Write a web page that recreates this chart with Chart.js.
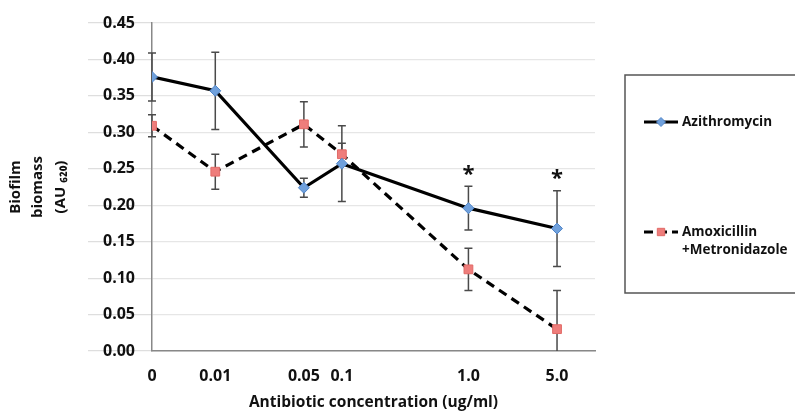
<!DOCTYPE html>
<html>
<head>
<meta charset="utf-8">
<style>
  html, body { margin: 0; padding: 0; background: #fff; }
  #wrap { width: 795px; height: 413px; }
</style>
<script src="https://cdn.jsdelivr.net/npm/chart.js@4.4.0/dist/chart.umd.min.js"></script>
</head>
<body>
<div id="wrap"><canvas id="chart" width="795" height="413"></canvas></div>
<script>
  // concentrations (ug/ml) and where Excel placed them along the axis
  const concLabels = ["0", "0.01", "0.05", "0.1", "1.0", "5.0"];
  const xPos = [0, 5, 12, 15, 25, 32];

  const azithro = [0.376, 0.357, 0.224, 0.257, 0.196, 0.168];
  const azithroErr = [0.033, 0.053, 0.013, 0.052, 0.030, 0.052];
  const amoxMetro = [0.309, 0.246, 0.311, 0.270, 0.112, 0.030];
  const amoxMetroErr = [0.015, 0.024, 0.031, 0.015, 0.029, 0.053];
  const significant = [false, false, false, false, true, true];

  const yTicks = [0, 0.05, 0.10, 0.15, 0.20, 0.25, 0.30, 0.35, 0.40, 0.45];

  const FONT = "'Open Sans', sans-serif";

  const errorBars = {
    id: "errorBars",
    beforeDatasetsDraw(chart) {
      const ctx = chart.ctx, area = chart.chartArea;
      const xs = chart.scales.x, ys = chart.scales.y;
      ctx.save();
      ctx.beginPath();
      ctx.rect(area.left - 10, area.top - 30, area.right - area.left + 20, area.bottom - area.top + 30);
      ctx.clip();
      ctx.strokeStyle = "#4a4a4a";
      ctx.lineWidth = 1.5;
      [[azithro, azithroErr], [amoxMetro, amoxMetroErr]].forEach(([vals, errs]) => {
        vals.forEach((v, i) => {
          const x = xs.getPixelForValue(xPos[i]);
          const y1 = ys.getPixelForValue(v + errs[i]);
          const y2 = ys.getPixelForValue(v - errs[i]);
          ctx.beginPath();
          ctx.moveTo(x, y1); ctx.lineTo(x, y2);
          ctx.moveTo(x - 4, y1); ctx.lineTo(x + 4, y1);
          ctx.moveTo(x - 4, y2); ctx.lineTo(x + 4, y2);
          ctx.stroke();
        });
      });
      ctx.restore();
    },
    afterDatasetsDraw(chart) {
      const ctx = chart.ctx;
      const xs = chart.scales.x, ys = chart.scales.y;
      // significance stars
      ctx.save();
      ctx.fillStyle = "#111";
      ctx.font = "bold 22px " + FONT;
      ctx.textAlign = "center";
      ctx.textBaseline = "middle";
      significant.forEach((s, i) => {
        if (!s) return;
        const top = Math.max(azithro[i] + azithroErr[i], amoxMetro[i] + amoxMetroErr[i]);
        ctx.fillText("*", xs.getPixelForValue(xPos[i]), ys.getPixelForValue(top) - 12);
      });
      ctx.restore();
    }
  };

  const boxLegend = {
    id: "boxLegend",
    afterDraw(chart) {
      const ctx = chart.ctx;
      ctx.save();
      ctx.strokeStyle = "#555";
      ctx.lineWidth = 1.5;
      ctx.strokeRect(625, 75, 200, 218);
      const items = [
        { ds: chart.data.datasets[0], y: 122, lines: ["Azithromycin"] },
        { ds: chart.data.datasets[1], y: 232, lines: ["Amoxicillin", "+Metronidazole"] }
      ];
      items.forEach(it => {
        ctx.strokeStyle = "#000";
        ctx.lineWidth = 3;
        ctx.setLineDash(it.ds.borderDash ? [9, 5] : []);
        ctx.beginPath();
        ctx.moveTo(644, it.y); ctx.lineTo(678, it.y);
        ctx.stroke();
        ctx.setLineDash([]);
        ctx.fillStyle = it.ds.pointBackgroundColor;
        ctx.strokeStyle = it.ds.pointBorderColor;
        ctx.lineWidth = 1;
        Chart.helpers.drawPoint(ctx, {
          pointStyle: it.ds.pointStyle, radius: it.ds.pointRadius - 1, rotation: 0, borderWidth: 1
        }, 661, it.y);
        ctx.fillStyle = "#111";
        ctx.font = "bold 13.5px " + FONT;
        ctx.textAlign = "left";
        ctx.textBaseline = "middle";
        it.lines.forEach((t, k) => ctx.fillText(t, 682, it.y + k * 18));
      });
      ctx.restore();
    }
  };

  new Chart(document.getElementById("chart"), {
    type: "line",
    data: {
      datasets: [
        {
          label: "Azithromycin",
          data: xPos.map((x, i) => ({ x: x, y: azithro[i] })),
          borderColor: "#000",
          borderWidth: 3.2,
          pointStyle: "rectRot",
          pointRadius: 5.5,
          pointBackgroundColor: "#6fa0dc",
          pointBorderColor: "#5286c8",
          pointBorderWidth: 1
        },
        {
          label: "Amoxicillin +Metronidazole",
          data: xPos.map((x, i) => ({ x: x, y: amoxMetro[i] })),
          borderColor: "#000",
          borderWidth: 3.2,
          borderDash: [9, 6],
          pointStyle: "rect",
          pointRadius: 6.2,
          pointBackgroundColor: "#ee7d7b",
          pointBorderColor: "#e26a66",
          pointBorderWidth: 1
        }
      ]
    },
    options: {
      responsive: false,
      animation: false,
      devicePixelRatio: 1,
      layout: { padding: { top: 23, right: 200, left: 0, bottom: 0 } },
      plugins: {
        legend: { display: false },
        tooltip: { enabled: false }
      },
      scales: {
        x: {
          type: "linear",
          min: 0,
          max: 35,
          afterBuildTicks(scale) {
            scale.ticks = xPos.map(v => ({ value: v }));
          },
          afterFit(scale) { scale.height = 62; },
          grid: { display: false },
          border: { display: true, color: "#888", width: 1.5 },
          ticks: {
            autoSkip: false,
            maxRotation: 0,
            padding: 8,
            color: "#111",
            font: { family: FONT, size: 16, weight: "bold" },
            callback: (v) => concLabels[xPos.indexOf(v)]
          },
          title: {
            display: true,
            text: "Antibiotic concentration (ug/ml)",
            color: "#111",
            font: { family: FONT, size: 15.5, weight: "bold" },
            padding: { top: 0, bottom: 1 }
          }
        },
        y: {
          min: 0,
          max: 0.45,
          afterBuildTicks(scale) {
            scale.ticks = yTicks.map(v => ({ value: v }));
          },
          afterFit(scale) { scale.width = 152; },
          grid: { color: "#e6e6e6", lineWidth: 1.2, tickLength: 64, tickColor: "#dedede" },
          border: { display: true, color: "#888", width: 1.5 },
          ticks: {
            padding: -47,
            color: "#111",
            font: { family: FONT, size: 16, weight: "bold" },
            callback: (v) => v.toFixed(2)
          },
          title: {
            display: true,
            text: ["Biofilm", "biomass", "(AU \u2086\u2082\u2080)"],
            color: "#111",
            font: { family: FONT, size: 15, weight: "bold", lineHeight: 1.5 },
            padding: { top: 4, bottom: 0 }
          }
        }
      }
    },
    plugins: [errorBars, boxLegend]
  });
</script>
</body>
</html>
